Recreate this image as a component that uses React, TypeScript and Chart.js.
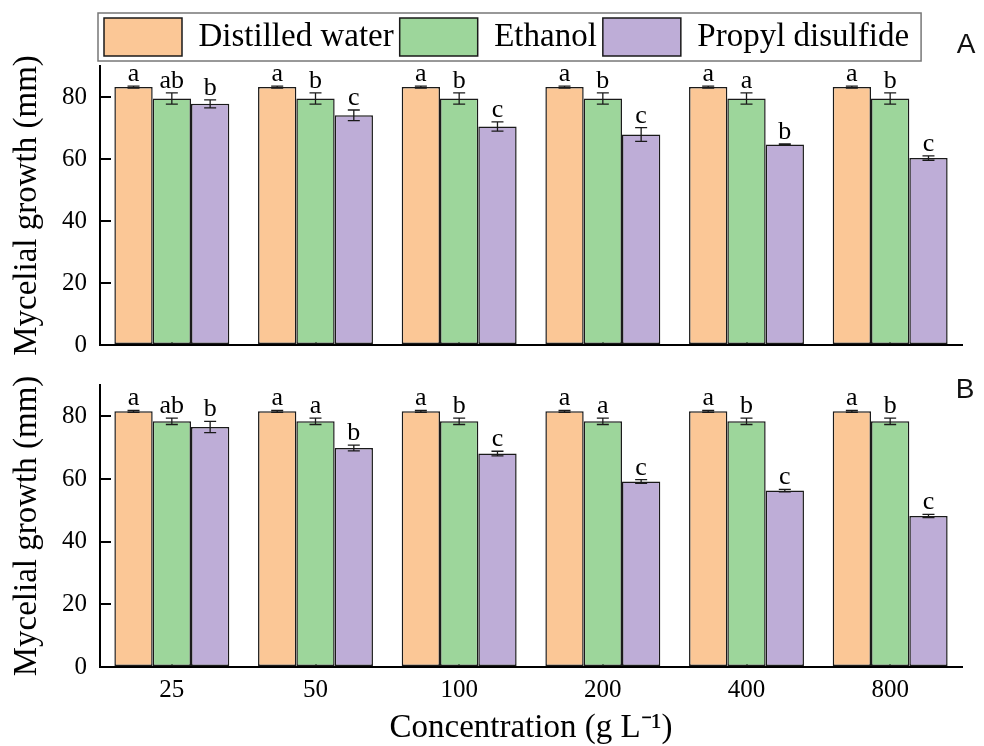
import React, { useEffect, useRef } from "react";
import { Chart, registerables } from "chart.js";
Chart.register(...registerables);

const categories = ["25", "50", "100", "200", "400", "800"];
const seriesNames = ["Distilled water", "Ethanol", "Propyl disulfide"];
const seriesColors = ["#FBC796", "#9DD69B", "#BEADD7"];
const yTitle = "Mycelial growth (mm)";
const xTitle = "Concentration (g L\u207B\u00B9)";

// Panel A
const waterA = [83.2, 83.2, 83.2, 83.2, 83.2, 83.2];
const waterAErr = [0.3, 0.3, 0.3, 0.3, 0.3, 0.3];
const ethanolA = [79.5, 79.5, 79.5, 79.5, 79.5, 79.5];
const ethanolAErr = [1.8, 1.8, 1.8, 1.8, 1.8, 1.8];
const propylA = [77.8, 74.1, 70.5, 67.9, 64.7, 60.3];
const propylAErr = [1.3, 1.7, 1.5, 2.2, 0.2, 0.7];
const waterALetters = ["a", "a", "a", "a", "a", "a"];
const ethanolALetters = ["ab", "b", "b", "b", "a", "b"];
const propylALetters = ["b", "c", "c", "c", "b", "c"];

// Panel B
const waterB = [81.6, 81.6, 81.6, 81.6, 81.6, 81.6];
const waterBErr = [0.3, 0.3, 0.3, 0.3, 0.3, 0.3];
const ethanolB = [78.4, 78.4, 78.4, 78.4, 78.4, 78.4];
const ethanolBErr = [1.0, 1.0, 1.0, 1.0, 1.0, 1.0];
const propylB = [76.6, 69.9, 68.1, 59.2, 56.3, 48.2];
const propylBErr = [1.8, 0.9, 0.75, 0.6, 0.4, 0.5];
const waterBLetters = ["a", "a", "a", "a", "a", "a"];
const ethanolBLetters = ["ab", "a", "b", "a", "b", "b"];
const propylBLetters = ["b", "b", "c", "c", "c", "c"];

const yTickValues = [0, 20, 40, 60, 80];

const SERIF = "'Liberation Serif', 'Times New Roman', serif";
const SANS = "'Liberation Sans', Arial, sans-serif";

function errorLetterPlugin(
  id: string,
  errors: number[][],
  letters: string[][],
  panelLabel: string,
  labelX: number,
  labelY: number
) {
  return {
    id,
    afterDatasetsDraw(chart: any) {
      const ctx = chart.ctx;
      const ys = chart.scales.y;
      ctx.save();
      chart.data.datasets.forEach((ds: any, di: number) => {
        const meta = chart.getDatasetMeta(di);
        meta.data.forEach((el: any, j: number) => {
          const v = ds.data[j];
          const e = errors[di][j];
          const x = el.x;
          const yt = ys.getPixelForValue(v + e);
          const yb = ys.getPixelForValue(v - e);
          ctx.strokeStyle = "#1a1a1a";
          ctx.lineWidth = 1.3;
          ctx.beginPath();
          ctx.moveTo(x, yt);
          ctx.lineTo(x, yb);
          ctx.moveTo(x - 6, yt);
          ctx.lineTo(x + 6, yt);
          ctx.moveTo(x - 6, yb);
          ctx.lineTo(x + 6, yb);
          ctx.stroke();
          ctx.fillStyle = "#000";
          ctx.font = `26px ${SERIF}`;
          ctx.textAlign = "center";
          ctx.textBaseline = "alphabetic";
          ctx.fillText(letters[di][j], x, yt - 5);
        });
      });
      ctx.font = `28px ${SANS}`;
      ctx.fillStyle = "#111";
      ctx.textAlign = "center";
      ctx.textBaseline = "middle";
      ctx.fillText(panelLabel, labelX, labelY);
      ctx.restore();
    },
  };
}

const legendPlugin = {
  id: "legendShiftBorder",
  afterLayout(chart: any) {
    const lg = chart.legend;
    if (!lg) return;
    lg.left += 98;
    lg.right += 98;
  },
  afterDraw(chart: any) {
    const lg = chart.legend;
    if (!lg || !lg.legendHitBoxes || !lg.legendHitBoxes.length) return;
    const hb = lg.legendHitBoxes;
    const first = hb[0];
    const last = hb[hb.length - 1];
    const ctx = chart.ctx;
    ctx.save();
    ctx.strokeStyle = "#777";
    ctx.lineWidth = 1.5;
    const left = first.left - 6;
    const right = last.left + last.width + 12;
    const top = first.top - 5;
    const bottom = first.top + first.height + 5;
    ctx.strokeRect(left, top, right - left, bottom - top);
    ctx.restore();
  },
};

function makeDatasets(vals: number[][]) {
  return vals.map((d, i) => ({
    label: seriesNames[i],
    data: d,
    backgroundColor: seriesColors[i],
    borderColor: "#1a1a1a",
    borderWidth: 1.5,
    borderSkipped: false,
    barPercentage: 1.0,
    categoryPercentage: 0.8,
  }));
}

function yScale() {
  return {
    min: 0,
    max: 90,
    afterFit: (s: any) => {
      s.width = 100;
    },
    afterBuildTicks: (s: any) => {
      s.ticks = yTickValues.map((v) => ({ value: v }));
    },
    ticks: {
      stepSize: 20,
      includeBounds: false,
      color: "#000",
      padding: 24,
      font: { family: SERIF, size: 25 },
    },
    grid: {
      drawOnChartArea: false,
      drawTicks: true,
      tickLength: -11,
      color: "#000",
      lineWidth: 2,
    },
    border: { color: "#000", width: 2 },
    title: {
      display: true,
      text: yTitle,
      color: "#000",
      font: { family: SERIF, size: 33, lineHeight: 1.2 },
      padding: { top: 8, bottom: 0 },
    },
  };
}

export default function App() {
  const topRef = useRef<HTMLCanvasElement>(null);
  const botRef = useRef<HTMLCanvasElement>(null);

  useEffect(() => {
    const top = new Chart(topRef.current as HTMLCanvasElement, {
      type: "bar",
      data: {
        labels: categories,
        datasets: makeDatasets([waterA, ethanolA, propylA]) as any,
      },
      options: {
        responsive: false,
        animation: false,
        layout: { padding: { top: 12, right: 22, left: 0, bottom: 0 } },
        plugins: {
          legend: {
            display: true,
            position: "top",
            align: "start",
            labels: {
              boxWidth: 78,
              boxHeight: 38,
              padding: 6,
              color: "#000",
              font: { family: SERIF, size: 33 },
            },
          },
          tooltip: { enabled: false },
        },
        scales: {
          x: {
            type: "category",
            offset: true,
            afterFit: (s: any) => {
              s.height = 15;
            },
            ticks: { display: false },
            grid: {
              offset: false,
              drawOnChartArea: false,
              drawTicks: true,
              tickLength: -10,
              color: "#000",
              lineWidth: 2,
            },
            border: { color: "#000", width: 2 },
          },
          y: yScale() as any,
        },
      },
      plugins: [
        legendPlugin,
        errorLetterPlugin(
          "errA",
          [waterAErr, ethanolAErr, propylAErr],
          [waterALetters, ethanolALetters, propylALetters],
          "A",
          966,
          45
        ),
      ],
    });

    const bot = new Chart(botRef.current as HTMLCanvasElement, {
      type: "bar",
      data: {
        labels: categories,
        datasets: makeDatasets([waterB, ethanolB, propylB]) as any,
      },
      options: {
        responsive: false,
        animation: false,
        layout: { padding: { top: 0, right: 22, left: 0, bottom: 0 } },
        plugins: {
          legend: { display: false },
          tooltip: { enabled: false },
        },
        scales: {
          x: {
            type: "category",
            offset: true,
            afterFit: (s: any) => {
              s.height = 79;
            },
            ticks: {
              color: "#000",
              padding: 18,
              font: { family: SERIF, size: 25 },
            },
            grid: {
              offset: false,
              drawOnChartArea: false,
              drawTicks: true,
              tickLength: -10,
              color: "#000",
              lineWidth: 2,
            },
            border: { color: "#000", width: 2 },
            title: {
              display: true,
              text: xTitle,
              color: "#000",
              font: { family: SERIF, size: 33, lineHeight: 1.1 },
              padding: { top: 0, bottom: 0 },
            },
          },
          y: yScale() as any,
        },
      },
      plugins: [
        errorLetterPlugin(
          "errB",
          [waterBErr, ethanolBErr, propylBErr],
          [waterBLetters, ethanolBLetters, propylBLetters],
          "B",
          965,
          44
        ),
      ],
    });

    return () => {
      top.destroy();
      bot.destroy();
    };
  }, []);

  return (
    <div style={{ position: "absolute", left: 0, top: 0, width: 984, height: 746, background: "#fff" }}>
      <canvas
        ref={topRef}
        width={984}
        height={384}
        style={{ display: "block", position: "absolute", left: 0, top: 0 }}
      />
      <canvas
        ref={botRef}
        width={984}
        height={400}
        style={{ display: "block", position: "absolute", left: 0, top: 346 }}
      />
    </div>
  );
}
